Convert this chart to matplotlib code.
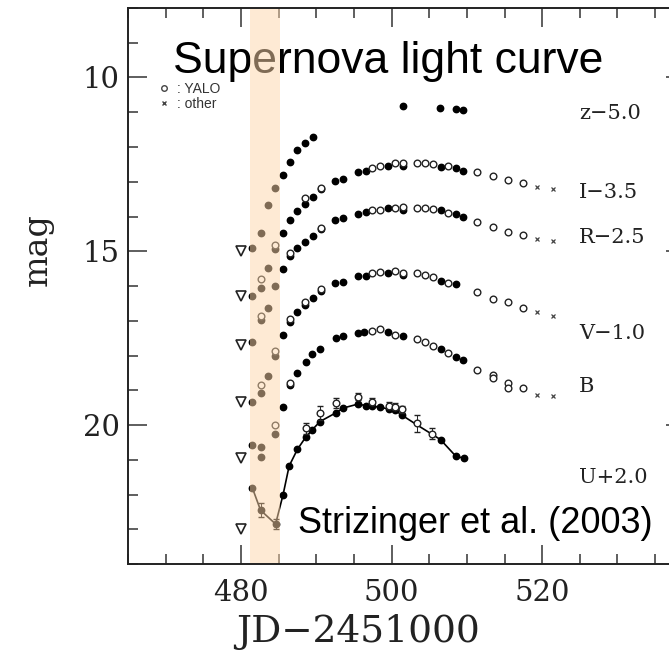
import matplotlib
matplotlib.use('Agg')
import matplotlib.pyplot as plt
from matplotlib.lines import Line2D

# plotted magnitudes (offsets already applied, as in the figure)
z_dot_jd = [481.5, 482.6, 483.6, 484.5, 485.6, 486.5, 487.5, 488.5, 489.6, 501.5, 506.4, 508.5, 509.5]
z_dot_mag = [14.92, 14.47, 13.66, 13.17, 12.8, 12.42, 12.1, 11.88, 11.7, 10.83, 10.87, 10.9, 10.94]

i_dot_jd = [481.5, 482.6, 483.6, 484.5, 485.6, 486.5, 487.5, 488.5, 489.6, 490.6, 492.5, 493.5,
            495.5, 496.6, 499.5, 501.5, 506.5, 508.5, 509.5]
i_dot_mag = [16.28, 16.07, 15.47, 14.94, 14.47, 14.09, 13.85, 13.63, 13.44, 13.21, 12.98, 12.92,
             12.73, 12.68, 12.54, 12.54, 12.58, 12.61, 12.68]
i_yalo_jd = [482.6, 484.5, 488.5, 490.6, 497.4, 498.4, 500.5, 501.5, 503.4, 504.4, 505.5, 507.5,
             511.4, 513.5, 515.4, 517.4]
i_yalo_mag = [15.8, 14.82, 13.47, 13.17, 12.61, 12.56, 12.47, 12.45, 12.47, 12.47, 12.49, 12.54,
              12.73, 12.83, 12.94, 13.04]
i_other_jd = [519.3, 521.4]
i_other_mag = [13.15, 13.22]

r_dot_jd = [481.5, 482.6, 483.6, 484.5, 485.6, 486.5, 487.5, 488.5, 489.6, 490.6, 492.5, 493.5,
            495.5, 496.6, 499.5, 501.5, 506.5, 508.5, 509.5]
r_dot_mag = [17.6, 16.98, 16.64, 15.99, 15.5, 15.13, 14.9, 14.72, 14.56, 14.37, 14.1, 14.04,
             13.92, 13.88, 13.75, 13.8, 13.82, 13.93, 14.0]
r_yalo_jd = [482.6, 486.5, 490.6, 497.4, 498.4, 500.5, 501.5, 503.4, 504.4, 505.5, 507.5,
             511.4, 513.5, 515.4, 517.4]
r_yalo_mag = [16.85, 15.05, 14.33, 13.8, 13.8, 13.75, 13.73, 13.75, 13.75, 13.78, 13.9,
              14.15, 14.3, 14.44, 14.52]
r_other_jd = [519.3, 521.4]
r_other_mag = [14.66, 14.71]

v_dot_jd = [481.5, 482.6, 483.6, 484.5, 485.6, 486.5, 487.5, 488.5, 489.6, 490.6, 492.5, 493.5,
            495.5, 496.6, 499.5, 501.5, 506.5, 508.5]
v_dot_mag = [19.33, 19.09, 18.58, 18.0, 17.42, 17.05, 16.75, 16.54, 16.35, 16.13, 15.92, 15.88,
             15.72, 15.7, 15.64, 15.69, 15.87, 15.95]
v_yalo_jd = [482.6, 484.5, 486.5, 488.5, 490.6, 497.4, 498.4, 500.5, 501.5, 503.4, 504.4, 505.5,
             507.5, 511.4, 513.5, 515.4, 517.4]
v_yalo_mag = [18.85, 17.88, 16.94, 16.45, 16.08, 15.64, 15.59, 15.56, 15.62, 15.64, 15.69, 15.73,
              15.9, 16.16, 16.37, 16.46, 16.62]
v_other_jd = [519.3, 521.4]
v_other_mag = [16.74, 16.86]

b_dot_jd = [481.5, 482.6, 482.6, 484.5, 485.6, 486.5, 487.5, 488.6, 489.5, 490.5, 492.6, 493.6,
            495.5, 496.4, 499.5, 501.5, 506.5, 508.5, 509.5]
b_dot_mag = [20.58, 20.64, 20.91, 20.27, 19.47, 18.85, 18.49, 18.18, 17.97, 17.8, 17.51, 17.44,
             17.34, 17.32, 17.33, 17.45, 17.82, 18.05, 18.14]
b_yalo_jd = [484.5, 486.5, 497.4, 498.4, 500.5, 503.4, 504.4, 505.5, 507.5, 511.4, 513.5, 513.5,
             515.4, 515.4, 517.4]
b_yalo_mag = [19.99, 18.78, 17.3, 17.25, 17.4, 17.53, 17.6, 17.73, 17.93, 18.43, 18.56, 18.66,
              18.78, 18.93, 18.94]
b_other_jd = [519.3, 521.4]
b_other_mag = [19.14, 19.17]

u_dot_jd = [481.5, 482.6, 484.6, 485.6, 486.4, 487.5, 488.6, 489.5, 490.5, 492.6, 493.6, 495.5,
            496.6, 497.4, 498.5, 499.6, 500.5, 501.4, 506.5, 508.5, 509.6]
u_dot_mag = [21.8, 22.45, 22.85, 22.0, 21.18, 20.7, 20.35, 20.13, 19.9, 19.65, 19.51, 19.4,
             19.44, 19.46, 19.49, 19.53, 19.58, 19.72, 20.42, 20.89, 20.96]
u_dot_err = [0.0, 0.2, 0.15, 0.0, 0.0, 0.0, 0.0, 0.0, 0.0, 0.0, 0.0, 0.0,
             0.0, 0.0, 0.0, 0.0, 0.0, 0.0, 0.0, 0.0, 0.0]
u_yalo_jd = [488.6, 490.5, 492.6, 495.5, 497.4, 499.6, 500.5, 501.4, 503.4, 505.4]
u_yalo_mag = [20.1, 19.66, 19.37, 19.18, 19.33, 19.45, 19.48, 19.55, 19.95, 20.25]
u_yalo_err = [0.15, 0.2, 0.15, 0.1, 0.1, 0.1, 0.1, 0.1, 0.25, 0.15]
u_line_jd = [481.5, 482.6, 484.6, 485.6, 486.4, 487.5, 488.6, 489.5, 490.5, 492.6, 493.6, 495.5,
             496.6, 498.5, 500.5, 501.4, 503.4, 505.4, 506.5, 508.5, 509.6]
u_line_mag = [21.8, 22.45, 22.85, 22.0, 21.18, 20.7, 20.35, 20.13, 19.9, 19.65, 19.51, 19.4,
              19.44, 19.49, 19.58, 19.72, 20.0, 20.27, 20.42, 20.89, 20.96]

limit_jd = [480.0, 480.0, 480.0, 480.0, 480.0, 480.0]
limit_mag = [15.0, 16.3, 17.7, 19.35, 20.95, 23.0]

band_labels = ['z\u22125.0', 'I\u22123.5', 'R\u22122.5', 'V\u22121.0', 'B', 'U+2.0']
band_label_mag = [11.03, 13.3, 14.6, 17.37, 18.9, 21.5]
band_label_jd = 524.9

early_start, early_end = 481.2, 485.25

fig = plt.figure(figsize=(6.69, 6.55), dpi=100)
ax = fig.add_axes([0.1913, 0.1389, 0.833, 0.8489])

dots = [(z_dot_jd, z_dot_mag), (i_dot_jd, i_dot_mag), (r_dot_jd, r_dot_mag),
        (v_dot_jd, v_dot_mag), (b_dot_jd, b_dot_mag), (u_dot_jd, u_dot_mag)]
yalos = [(i_yalo_jd, i_yalo_mag), (r_yalo_jd, r_yalo_mag), (v_yalo_jd, v_yalo_mag),
         (b_yalo_jd, b_yalo_mag)]
others = [(i_other_jd, i_other_mag), (r_other_jd, r_other_mag), (v_other_jd, v_other_mag),
          (b_other_jd, b_other_mag)]

ax.plot(u_line_jd, u_line_mag, color='black', lw=1.2, zorder=2)
for jd, mag in dots:
    ax.plot(jd, mag, 'o', color='black', ms=4.6, zorder=2.1)
for jd, mag in yalos:
    ax.plot(jd, mag, 'o', mfc='white', mec='#222222', mew=1.0, ms=4.8, zorder=2.1)
for jd, mag in others:
    ax.plot(jd, mag, 'x', color='#444444', ms=3.5, mew=0.9, zorder=2.1)

ax.errorbar(u_dot_jd, u_dot_mag, yerr=u_dot_err, fmt='none', ecolor='black', elinewidth=0.7,
            capsize=2.2, zorder=2)
ax.errorbar(u_yalo_jd, u_yalo_mag, yerr=u_yalo_err, fmt='o', mfc='white', mec='#222222', mew=1.0,
            ms=4.8, ecolor='#222222', elinewidth=0.7, capsize=2.2, zorder=2.1)

ax.plot(limit_jd, limit_mag, 'v', mfc='white', mec='#222222', mew=1.2, ms=6.5, zorder=2.1)

ax.axvspan(early_start, early_end, color='#FED6AA', alpha=0.5, lw=0, zorder=2.2)

for lab, m in zip(band_labels, band_label_mag):
    ax.text(band_label_jd, m, lab, family='DejaVu Serif', fontsize=15, va='center', ha='left',
            color='#222222', zorder=3)

ax.text(471.0, 9.86, 'Supernova light curve', family='Liberation Sans', fontsize=32,
        ha='left', va='baseline', zorder=1.5)
ax.text(487.55, 23.11, 'Strizinger et al. (2003)', family='Liberation Sans', fontsize=26,
        ha='left', va='baseline', zorder=3)

leg_handles = [Line2D([], [], ls='none', marker='o', mfc='white', mec='#444444', ms=4, mew=1),
               Line2D([], [], ls='none', marker='x', color='#444444', ms=3.5, mew=1)]
ax.legend(leg_handles, [': YALO', ': other'], loc='upper left', bbox_to_anchor=(0.0575, 0.867),
          frameon=False, prop={'family': 'Liberation Sans', 'size': 10}, labelcolor='#333333',
          handlelength=0.6, handletextpad=0.6, labelspacing=0.1, borderpad=0, borderaxespad=0)

ax.set_xlim(465, 539)
ax.set_ylim(24, 8)
ax.set_xticks([480, 500, 520])
ax.set_xticks(range(465, 540, 5), minor=True)
ax.set_yticks([10, 15, 20])
ax.set_yticks(range(8, 25), minor=True)
ax.tick_params(which='both', direction='in', top=True, right=True, width=1.1, color='#333333')
ax.tick_params(which='major', length=14)
ax.tick_params(which='minor', length=7.5)
ax.tick_params(axis='x', which='major', pad=11)
ax.tick_params(axis='y', which='major', pad=6)
for lbl in ax.get_xticklabels() + ax.get_yticklabels():
    lbl.set_family('DejaVu Serif')
    lbl.set_fontsize(21)
    lbl.set_color('#222222')
for sp in ax.spines.values():
    sp.set_linewidth(1.4)
    sp.set_color('#222222')

ax.set_xlabel('JD\u22122451000', family='DejaVu Serif', fontsize=27, color='#222222')
ax.xaxis.set_label_coords(0.413, -0.09)
ax.set_ylabel('mag', family='DejaVu Serif', fontsize=24, color='#222222')
ax.yaxis.set_label_coords(-0.133, 0.565)

fig.savefig('out.png', dpi=100)
